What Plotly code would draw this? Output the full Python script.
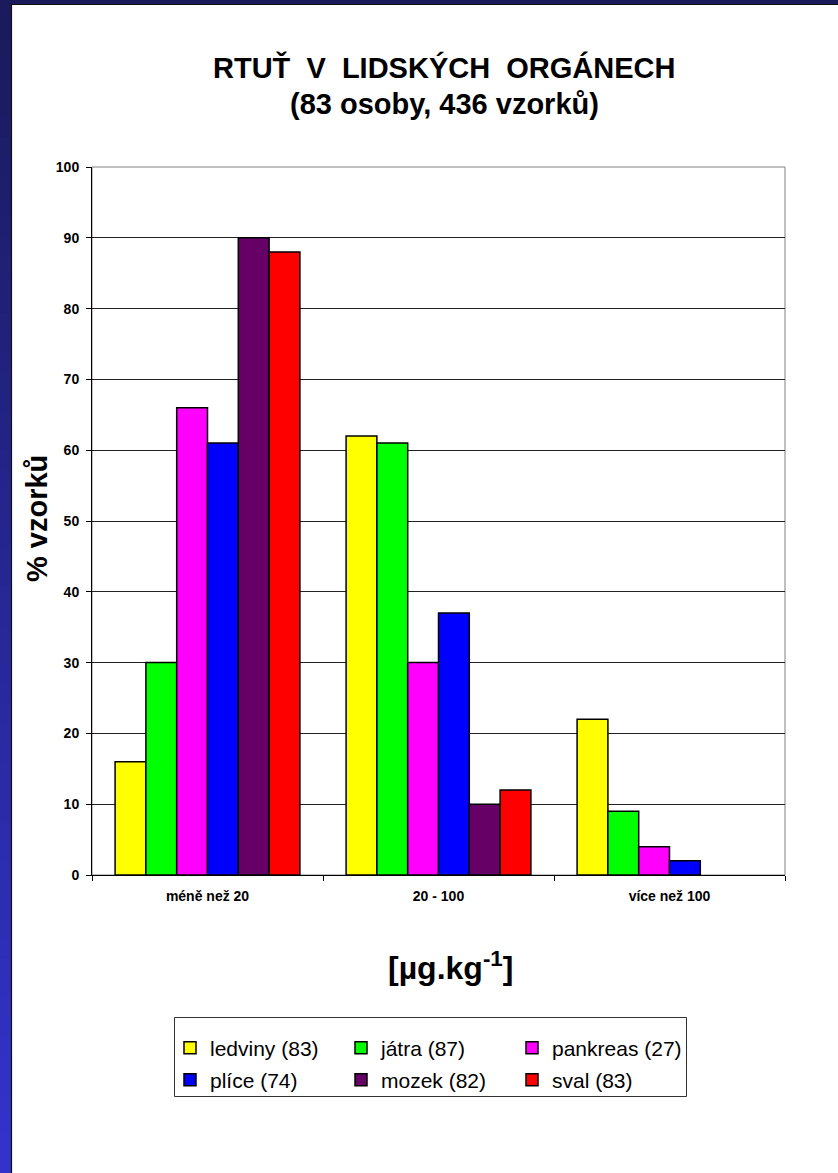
import plotly.graph_objects as go

# Concentration classes (µg/kg) and share of samples per organ, in %
categories = ["méně než 20", "20 - 100", "více než 100"]
organs = ["ledviny (83)", "játra (87)", "pankreas (27)",
          "plíce (74)", "mozek (82)", "sval (83)"]
ledviny = [16, 62, 22]
jatra = [30, 61, 9]
pankreas = [66, 30, 4]
plice = [61, 37, 2]
mozek = [90, 10, 0]
sval = [88, 12, 0]
series = [ledviny, jatra, pankreas, plice, mozek, sval]
colors = ["#FFFF00", "#00FF00", "#FF00FF", "#0000FF", "#660066", "#FF0000"]
y_ticks = list(range(0, 101, 10))

FONT = "Liberation Sans, Arial, sans-serif"
W, H = 838, 1173
L, R, T, B = 92, 53, 167, 298
PW, PH = W - L - R, H - T - B


def px_x(p):
    return (p - L) / PW


def px_y(p):
    return (H - B - p) / PH


fig = go.Figure()
for i, (name, vals, col) in enumerate(zip(organs, series, colors)):
    fig.add_trace(go.Bar(
        x=categories,
        # an empty class gets no bar at all
        y=[v if v else None for v in vals],
        name=name,
        marker=dict(color=col, line=dict(color="black", width=1.5)),
        legend="legend" if i < 3 else "legend2",
    ))

shapes = []
# blue frame strip on the left, dark navy at top fading to bright blue
n = 60
top_c = (0x1A, 0x1A, 0x5C)
bot_c = (0x33, 0x33, 0xCC)
for k in range(n):
    t = k / (n - 1)
    c = tuple(round(a + (b - a) * t) for a, b in zip(top_c, bot_c))
    y0 = H * k / n
    y1 = H * (k + 1) / n + 1
    shapes.append(dict(type="rect", xref="paper", yref="paper",
                       x0=px_x(0), x1=px_x(11), y0=px_y(y1), y1=px_y(y0),
                       fillcolor="rgb(%d,%d,%d)" % c, line=dict(width=0), layer="below"))
# navy strip along the top
shapes.append(dict(type="rect", xref="paper", yref="paper",
                   x0=px_x(0), x1=px_x(W), y0=px_y(4), y1=px_y(0),
                   fillcolor="#1A1A5C", line=dict(width=0), layer="below"))
# thin dark edge of the white panel
shapes.append(dict(type="line", xref="paper", yref="paper",
                   x0=px_x(11.5), x1=px_x(11.5), y0=px_y(H), y1=px_y(4),
                   line=dict(color="#111111", width=1.2)))
shapes.append(dict(type="line", xref="paper", yref="paper",
                   x0=px_x(11.5), x1=px_x(W), y0=px_y(4.5), y1=px_y(4.5),
                   line=dict(color="#111111", width=1.2)))
# grey plot-area frame (top and right)
shapes.append(dict(type="rect", xref="paper", yref="paper",
                   x0=0, x1=1, y0=0, y1=1,
                   line=dict(color="#808080", width=1), layer="below"))
# legend frame
shapes.append(dict(type="rect", xref="paper", yref="paper",
                   x0=px_x(174.5), x1=px_x(686.5), y0=px_y(1096.5), y1=px_y(1017.5),
                   line=dict(color="#333333", width=1), fillcolor="rgba(0,0,0,0)"))

legend_style = dict(orientation="h", xanchor="left", yanchor="middle",
                    font=dict(family=FONT, size=21, color="black"),
                    bgcolor="rgba(0,0,0,0)", borderwidth=0,
                    entrywidth=126, entrywidthmode="pixels",
                    itemclick=False, itemdoubleclick=False)

NB = "\u00a0"
fig.update_layout(
    width=W, height=H,
    margin=dict(l=L, r=R, t=T, b=B, pad=0),
    paper_bgcolor="white", plot_bgcolor="white",
    barmode="group", bargap=0.2, bargroupgap=0,
    font=dict(family=FONT, color="black"),
    showlegend=True,
    legend=dict(x=px_x(170), y=px_y(1048), **legend_style),
    legend2=dict(x=px_x(170), y=px_y(1080), **legend_style),
    shapes=shapes,
    annotations=[
        dict(text="<b>RTUŤ" + NB + " V" + NB + " LIDSKÝCH" + NB + " ORGÁNECH</b>",
             xref="paper", yref="paper",
             x=px_x(444), y=px_y(67), xanchor="center", yanchor="middle",
             showarrow=False, font=dict(size=29, color="black")),
        dict(text="<b>(83 osoby, 436 vzorků)</b>", xref="paper", yref="paper",
             x=px_x(444), y=px_y(104), xanchor="center", yanchor="middle",
             showarrow=False, font=dict(size=29, color="black")),
        dict(text="<b>% vzorků</b>", xref="paper", yref="paper",
             x=px_x(37), y=px_y(519), xanchor="center", yanchor="middle",
             textangle=-90, showarrow=False, font=dict(size=29, color="black")),
        dict(text="<b>[µg.kg<sup>-1</sup>]</b>", xref="paper", yref="paper",
             x=px_x(450), y=px_y(966), xanchor="center", yanchor="middle",
             showarrow=False, font=dict(size=32, color="black")),
    ],
)

fig.update_xaxes(
    type="category", showgrid=False, showline=True, linecolor="black", linewidth=1,
    ticks="outside", tickson="boundaries", ticklen=5, tickcolor="black",
    tickfont=dict(size=14, color="black"), ticklabelstandoff=8,
    ticktext=["<b>%s</b>" % c for c in categories], tickvals=categories,
)
fig.update_yaxes(
    range=[0, 100], tickvals=y_ticks, ticktext=["<b>%d</b>" % v for v in y_ticks],
    showgrid=True, gridcolor="#222222", gridwidth=1,
    showline=True, linecolor="black", linewidth=1,
    ticks="outside", ticklen=5, tickcolor="black",
    tickfont=dict(size=14, color="black"), ticklabelstandoff=4, zeroline=False,
)

fig.write_html("out.html")
